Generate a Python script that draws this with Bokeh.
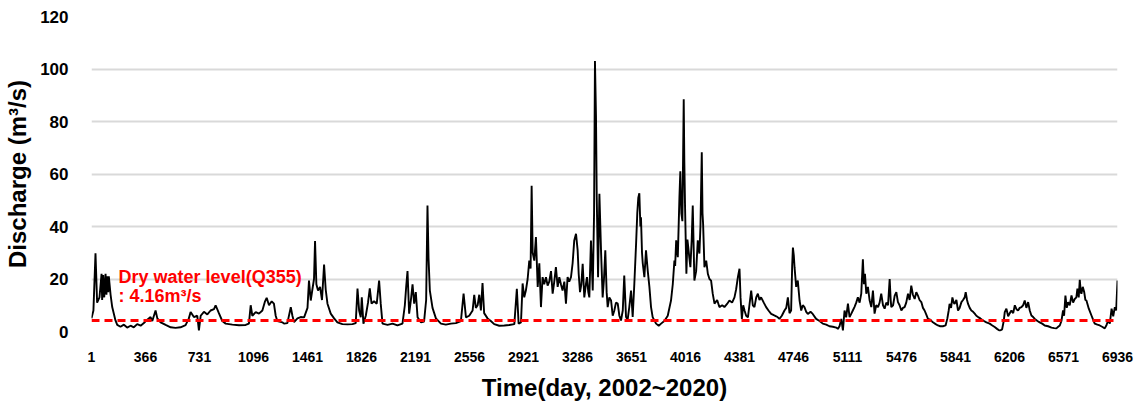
from bokeh.plotting import figure
from bokeh.models import FixedTicker, Span, Label, Range1d
from bokeh.embed import file_html
from bokeh.resources import INLINE

# ---- data ----
day = [1, 14, 28, 39, 55, 69, 73, 80, 87, 96, 102, 107, 114, 118, 130, 141, 163, 175, 197, 220,
       242, 265, 287, 310, 333, 355, 378, 400, 412, 434, 446, 468, 502, 536, 569, 603, 637, 659, 671, 693,
       716, 727, 739, 761, 784, 806, 829, 840, 862, 885, 908, 953, 998, 1043, 1065, 1077, 1088, 1111, 1133, 1156,
       1174, 1185, 1201, 1219, 1234, 1246, 1257, 1291,
       1302, 1325, 1348, 1359, 1370, 1393, 1415, 1438, 1461, 1471, 1483, 1494, 1505, 1512, 1521, 1532, 1546, 1559,
       1573, 1584, 1596, 1618, 1641, 1663, 1697, 1731, 1765, 1787, 1799, 1810, 1821, 1828, 1839, 1855, 1870, 1882,
       1894, 1911, 1929, 1945, 1956, 1968, 2002, 2036, 2069, 2103, 2119, 2128, 2137, 2148, 2160, 2171, 2182, 2193,
       2205, 2227, 2249, 2263, 2272, 2279, 2288, 2306, 2329, 2363, 2396, 2430, 2464, 2498, 2516, 2532, 2554, 2577,
       2588, 2599, 2611, 2622,
       2633, 2644, 2655, 2678, 2700, 2723, 2757, 2791, 2825, 2859, 2876, 2888, 2904, 2915, 2926, 2937, 2949, 2960,
       2969, 2976, 2983, 2994, 3005, 3017, 3028, 3039, 3050, 3061, 3073, 3084, 3095, 3107, 3118, 3129, 3140, 3152,
       3163, 3174, 3185, 3197, 3208, 3219, 3230, 3242, 3253, 3264, 3276, 3287, 3294, 3303, 3312, 3321, 3332, 3343,
       3350, 3359, 3366, 3377, 3389, 3398, 3404, 3411, 3416, 3425, 3434, 3445, 3456, 3465, 3474, 3483, 3490, 3501,
       3513, 3524, 3535, 3546, 3558, 3569, 3580, 3592, 3602, 3614, 3625, 3636, 3648, 3659, 3670, 3682, 3690, 3697,
       3704, 3711, 3715, 3722, 3727, 3738, 3749, 3761, 3772, 3783, 3794, 3817, 3835, 3851, 3873, 3896, 3918, 3930,
       3941,
       3946, 3953, 3964, 3975, 3981, 3988, 3995, 4004, 4008, 4013, 4022, 4029, 4035, 4042, 4049, 4058, 4065, 4072,
       4076, 4088, 4099, 4110, 4117, 4126, 4131, 4135, 4144, 4156, 4167, 4178, 4189, 4200, 4212, 4230, 4245, 4264,
       4279, 4297, 4313, 4331, 4347, 4358, 4370, 4381, 4388, 4397, 4406, 4415, 4426, 4438, 4448, 4460, 4471, 4482,
       4494, 4505, 4516, 4527, 4545, 4561, 4577, 4595, 4613, 4629, 4640, 4651, 4667, 4685, 4697, 4708, 4719, 4730,
       4737, 4742, 4748, 4753, 4764, 4775, 4787, 4798, 4809, 4820, 4832, 4843, 4861, 4876, 4899, 4922, 4944, 4967,
       4989, 5012, 5035, 5046, 5057, 5069, 5080, 5091, 5102, 5114, 5125, 5136, 5147, 5158, 5170, 5181, 5193, 5204,
       5215, 5222, 5229, 5238, 5249, 5260,
       5272, 5283, 5294, 5305, 5317, 5328, 5339, 5351, 5362, 5373, 5385, 5396, 5403, 5407, 5419, 5430, 5441, 5452,
       5463, 5475, 5486, 5497, 5508, 5520, 5531, 5542, 5553, 5565, 5576, 5587, 5598, 5610, 5621, 5632, 5643, 5655,
       5670, 5688, 5707, 5722, 5738, 5756, 5774, 5786, 5795, 5801, 5811, 5820, 5829, 5835, 5847, 5858, 5869, 5881,
       5892, 5903, 5910, 5919, 5926, 5937, 5948, 5960, 5971, 5982, 5994, 6009, 6027, 6050, 6072, 6090, 6106, 6122,
       6140, 6156, 6167,
       6174, 6185, 6197, 6208, 6219, 6231, 6242, 6253, 6264, 6275, 6287, 6298, 6309, 6320, 6332, 6343, 6354, 6366,
       6377, 6395, 6410, 6427, 6444, 6467, 6490, 6508, 6523, 6535, 6546, 6557, 6568, 6575, 6584, 6593, 6602, 6613,
       6625, 6636, 6647, 6658, 6665, 6674, 6681, 6688, 6692, 6701, 6711, 6719, 6726, 6742, 6760, 6771, 6782, 6800,
       6816, 6832, 6850, 6862, 6873, 6884, 6896, 6907, 6918, 6927, 6936]

discharge = [5, 8, 29.8, 11, 13, 22, 12, 21.5, 13, 22, 14, 21, 15, 21, 14, 9.3, 4.2, 2.5, 1.8, 2.6,
             1.5, 2.2, 1.6, 2.8, 2.2, 3.2, 4.5, 5.5, 4, 8, 5, 3.5, 2.5, 1.6, 1.4, 1.6, 2.4, 5, 7.4, 5.5,
             6, 0.4, 6, 7.5, 6.5, 8, 8.5, 10, 7, 4, 3, 2.6, 2.4, 2.5, 3, 10, 6, 7.4, 6.8, 8,
             11.5, 12.8, 10, 11.5, 10.6, 6, 4, 3.5,
             3, 3.2, 9.3, 6, 3.6, 5, 5.5, 5.4, 9, 19.4, 11.8, 16, 20, 34.5, 18, 15.6, 17, 12,
             25.5, 16, 10.6, 6.8, 5, 3.5, 2.8, 2.7, 2.8, 3.2, 16.4, 8, 5.4, 13, 3, 6, 11, 16.4,
             10.6, 11.5, 10.6, 19.4, 10.6, 3, 2.5, 3, 2.3, 3, 10, 17, 23, 6.8, 12, 18, 10.6, 15,
             5.4, 3.5, 3.8, 12, 48, 28, 15.6, 9, 5, 3, 2.6, 3, 3.2, 4, 14.4, 5.4, 6, 8,
             14, 9, 10, 14,
             8, 18.5, 7, 5, 4, 2.8, 2.2, 2.3, 2.5, 2.8, 16.3, 3, 3.5, 18.3, 13, 15.6, 20, 27,
             24, 55.5, 30, 27, 36, 17, 26, 9.3, 20.7, 18, 20.7, 17.5, 19, 23, 14.4, 19, 24.5, 17,
             20.7, 18, 15.6, 19, 10.6, 20.7, 19, 20.7, 26, 34.7, 37.2, 30.9, 22, 15, 18, 25.8, 13, 18,
             20.7, 15, 13, 34.7, 15.6, 45, 103, 82, 51.2, 20.7, 52.5, 30.9, 13, 20, 30.9, 15, 9.3, 13,
             11.8, 6, 8, 11, 10.6, 6, 4.2, 8, 21.3, 5.5, 4.5, 9.3, 15.6, 5.5, 18, 33.4, 45, 51,
             52.7, 40, 43.5, 30, 26, 20.7, 30.9, 23, 17, 9.3, 5.5, 3, 2.2, 3, 4, 6, 11.8, 18,
             27,
             25, 34.7, 28.3, 51.2, 61, 45, 42, 88.5, 65, 47.4, 22, 35, 32, 28, 24.5, 35, 48, 30,
             19.4, 23, 34.7, 29.7, 40, 68.3, 45, 41, 24.5, 27, 22, 20, 19.4, 14.4, 10.6, 12, 9.3, 10,
             9.3, 10.5, 11.8, 11, 13, 16, 20.7, 23.9, 13, 4.8, 10, 8, 6, 5.4, 10, 15.6, 10, 9.3,
             13, 14.4, 12, 13, 11, 9.3, 8, 6.7, 6.2, 5.8, 5.4, 4.8, 6, 8, 9, 13, 7, 8,
             25, 32, 29, 24.5, 17, 19.4, 11.8, 8, 10, 9.3, 7.5, 6.7, 7.5, 6.7, 4.8, 4, 3, 2.6,
             2, 1.8, 1.5, 1, 2, 4.8, 0.4, 8, 5.4, 10.6, 5.5, 6.7, 8, 9.3, 11, 13, 11, 14.4,
             27.5, 18, 22, 14.4, 17, 12,
             9.3, 15.6, 6.8, 10, 9.3, 11, 14.4, 10, 8.7, 11, 10, 20, 12, 9.3, 10, 13.7, 15, 11.2,
             10, 8, 9, 9.3, 11, 14.4, 12, 17.5, 14, 12.4, 15, 13.7, 12, 11.2, 9, 8, 6.5, 4.8,
             4.5, 3.5, 2.8, 2.3, 2, 2, 2.3, 5, 8, 10.5, 9, 13, 11, 10.5, 12, 8, 9, 11.2,
             12, 13, 15, 12, 10.5, 9, 8, 7.5, 6.8, 6, 5.5, 5, 4.2, 3.5, 3, 2.3, 1.7, 1,
             0.3, 0.8, 4,
             7.4, 8.7, 5.8, 7, 8, 7, 10, 8.5, 8, 9, 9.3, 10, 11.8, 9, 11.2, 8, 6.1, 5.5,
             4.8, 4, 3.5, 3, 2.3, 2, 1.5, 1.3, 1.2, 1.8, 2.3, 4, 8, 6, 13.7, 9, 11.2, 10,
             13.7, 11, 12.4, 13, 16.3, 13, 19.7, 15, 14.4, 17, 15, 12, 11.8, 8.7, 6.1, 4.5, 3, 2.6,
             2.3, 1.8, 1.2, 2.5, 4.2, 3, 8.7, 5.8, 9.3, 8, 19.4]

x_ticks = [1, 366, 731, 1096, 1461, 1826, 2191, 2556, 2921, 3286, 3651, 4016, 4381, 4746,
           5111, 5476, 5841, 6206, 6571, 6936]
y_ticks = [0, 20, 40, 60, 80, 100, 120]
q355 = 4.16
note_lines = ["Dry water level(Q355)", ": 4.16m\u00b3/s"]

p = figure(width=1135, height=404, output_backend="svg", toolbar_location=None,
           x_range=Range1d(1, 6936), y_range=Range1d(0, 120))
p.min_border_left = 91
p.min_border_right = 18
p.min_border_top = 16
p.min_border_bottom = 73
p.outline_line_color = None
p.background_fill_color = "white"
p.border_fill_color = "white"

p.line(day, discharge, line_color="black", line_width=1.9)

p.add_layout(Span(location=q355, dimension="width", line_color="#FF0000",
                  line_width=3, line_dash="8 5"))

p.add_layout(Label(x=184, y=20.6, text=note_lines[0], text_color="#FF0000",
                   text_font="Liberation Sans", text_font_style="bold",
                   text_font_size="18px", text_baseline="alphabetic"))
p.add_layout(Label(x=184, y=13.6, text=note_lines[1], text_color="#FF0000",
                   text_font="Liberation Sans", text_font_style="bold",
                   text_font_size="18px", text_baseline="alphabetic"))

p.xgrid.visible = False
p.ygrid.grid_line_color = "#D9D9D9"
p.ygrid.grid_line_width = 2
p.ygrid.ticker = FixedTicker(ticks=y_ticks)

p.xaxis.ticker = FixedTicker(ticks=x_ticks)
p.yaxis.ticker = FixedTicker(ticks=y_ticks)
for ax in (p.xaxis[0], p.yaxis[0]):
    ax.axis_line_color = None
    ax.major_tick_line_color = None
    ax.minor_tick_line_color = None
    ax.major_label_text_color = "black"
    ax.major_label_text_font_style = "bold"
    ax.major_label_text_font = "Liberation Sans"
    ax.axis_label_text_color = "black"
    ax.axis_label_text_font_style = "bold"
    ax.axis_label_text_font = "Liberation Sans"
    ax.axis_label_text_font_size = "24px"

p.xaxis.major_label_text_font_size = "14px"
p.xaxis.major_label_standoff = 14
p.xaxis.axis_label = "Time(day, 2002~2020)"
p.xaxis.axis_label_standoff = 9

p.yaxis.major_label_text_font_size = "17px"
p.yaxis.major_label_standoff = 17
p.yaxis.axis_label = "Discharge (m\u00b3/s)"
p.yaxis.axis_label_standoff = 6

open("out.html", "w").write(file_html(p, INLINE))
